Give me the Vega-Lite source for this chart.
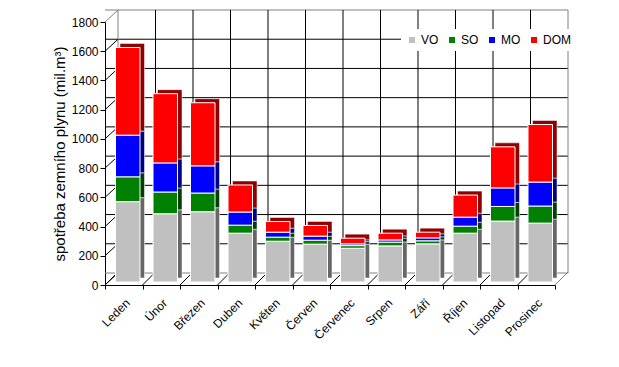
{
  "$schema": "https://vega.github.io/schema/vega-lite/v6.json",
  "width": 450,
  "height": 263,
  "autosize": {"type": "none"},
  "padding": {"left": 105, "top": 22, "right": 64, "bottom": 82},
  "background": "white",
  "config": {
    "view": {"stroke": null},
    "font": "Liberation Sans Narrow, Liberation Sans, sans-serif",
    "axis": {"labelColor": "black", "titleColor": "black", "domainColor": "black", "tickColor": "black", "grid": false, "labelOverlap": false},
    "axisY": {"labelOverlap": false, "format": "d", "tickCount": 9}
  },
  "datasets": {
    "gas": [
      {"month": "Leden", "type": "VO", "value": 550}, {"month": "Leden", "type": "SO", "value": 170}, {"month": "Leden", "type": "MO", "value": 285}, {"month": "Leden", "type": "DOM", "value": 600},
      {"month": "Únor", "type": "VO", "value": 467}, {"month": "Únor", "type": "SO", "value": 149}, {"month": "Únor", "type": "MO", "value": 199}, {"month": "Únor", "type": "DOM", "value": 474},
      {"month": "Březen", "type": "VO", "value": 481}, {"month": "Březen", "type": "SO", "value": 128}, {"month": "Březen", "type": "MO", "value": 186}, {"month": "Březen", "type": "DOM", "value": 432},
      {"month": "Duben", "type": "VO", "value": 334}, {"month": "Duben", "type": "SO", "value": 55}, {"month": "Duben", "type": "MO", "value": 90}, {"month": "Duben", "type": "DOM", "value": 185},
      {"month": "Květen", "type": "VO", "value": 279}, {"month": "Květen", "type": "SO", "value": 28}, {"month": "Květen", "type": "MO", "value": 34}, {"month": "Květen", "type": "DOM", "value": 73},
      {"month": "Červen", "type": "VO", "value": 259}, {"month": "Červen", "type": "SO", "value": 27}, {"month": "Červen", "type": "MO", "value": 28}, {"month": "Červen", "type": "DOM", "value": 73},
      {"month": "Červenec", "type": "VO", "value": 231}, {"month": "Červenec", "type": "SO", "value": 18}, {"month": "Červenec", "type": "MO", "value": 12}, {"month": "Červenec", "type": "DOM", "value": 39},
      {"month": "Srpen", "type": "VO", "value": 247}, {"month": "Srpen", "type": "SO", "value": 26}, {"month": "Srpen", "type": "MO", "value": 15}, {"month": "Srpen", "type": "DOM", "value": 46},
      {"month": "Září", "type": "VO", "value": 261}, {"month": "Září", "type": "SO", "value": 21}, {"month": "Září", "type": "MO", "value": 20}, {"month": "Září", "type": "DOM", "value": 39},
      {"month": "Říjen", "type": "VO", "value": 334}, {"month": "Říjen", "type": "SO", "value": 48}, {"month": "Říjen", "type": "MO", "value": 62}, {"month": "Říjen", "type": "DOM", "value": 151},
      {"month": "Listopad", "type": "VO", "value": 417}, {"month": "Listopad", "type": "SO", "value": 100}, {"month": "Listopad", "type": "MO", "value": 127}, {"month": "Listopad", "type": "DOM", "value": 281},
      {"month": "Prosinec", "type": "VO", "value": 403}, {"month": "Prosinec", "type": "SO", "value": 117}, {"month": "Prosinec", "type": "MO", "value": 164}, {"month": "Prosinec", "type": "DOM", "value": 394}
    ],
    "ticks": [{"v": 0}, {"v": 200}, {"v": 400}, {"v": 600}, {"v": 800}, {"v": 1000}, {"v": 1200}, {"v": 1400}, {"v": 1600}, {"v": 1800}],
    "months": [{"month": "Leden"}, {"month": "Únor"}, {"month": "Březen"}, {"month": "Duben"}, {"month": "Květen"}, {"month": "Červen"}, {"month": "Červenec"}, {"month": "Srpen"}, {"month": "Září"}, {"month": "Říjen"}, {"month": "Listopad"}, {"month": "Prosinec"}]
  },
  "layer": [
    {
      "data": {"name": "ticks"},
      "mark": {"type": "rule", "xOffset": 13, "x2Offset": 13, "yOffset": -12, "strokeWidth": 1},
      "encoding": {
        "y": {"field": "v", "type": "quantitative", "scale": {"domain": [0, 1800], "nice": false},
          "axis": {"title": "spotřeba zemního plynu (mil.m³)", "tickCount": 9, "format": "d", "labelOverlap": false, "tickSize": 5, "labelPadding": 2, "labelFontSize": 12, "titleFontSize": 15, "titleFontWeight": "normal", "titlePadding": 4}},
        "stroke": {"condition": {"test": "datum.v == 0 || datum.v == 1800", "value": "#808080"}, "value": "black"}
      }
    },
    {
      "data": {"name": "months"},
      "mark": {"type": "rule", "xOffset": 13, "yOffset": -12, "y2Offset": -12, "strokeWidth": 1},
      "encoding": {
        "x": {"field": "month", "type": "nominal", "bandPosition": 0, "scale": {"domain": ["Leden", "Únor", "Březen", "Duben", "Květen", "Červen", "Červenec", "Srpen", "Září", "Říjen", "Listopad", "Prosinec"], "paddingInner": 0, "paddingOuter": 0},
          "axis": {"title": null, "labelAngle": -45, "labelFontSize": 12, "labelOverlap": false, "tickBand": "extent", "tickSize": 4, "labelPadding": 8}},
        "y": {"datum": 0, "type": "quantitative"},
        "y2": {"datum": 1800},
        "stroke": {"condition": {"test": "datum.month == 'Leden'", "value": "#808080"}, "value": "black"}
      }
    },
    {
      "data": {"name": "months"},
      "transform": [{"filter": "datum.month == 'Prosinec'"}],
      "mark": {"type": "rule", "xOffset": 13, "yOffset": -12, "y2Offset": -12, "strokeWidth": 1, "color": "#808080"},
      "encoding": {
        "x": {"field": "month", "type": "nominal", "bandPosition": 1},
        "y": {"datum": 0, "type": "quantitative"},
        "y2": {"datum": 1800}
      }
    },
    {
      "data": {"name": "ticks"},
      "mark": {"type": "rule", "x2Offset": 13, "y2Offset": -12, "strokeWidth": 1},
      "encoding": {
        "x": {"datum": "Leden", "type": "nominal", "bandPosition": 0},
        "x2": {"datum": "Leden", "bandPosition": 0},
        "y": {"field": "v", "type": "quantitative"},
        "y2": {"field": "v"},
        "stroke": {"condition": {"test": "datum.v == 1800", "value": "#808080"}, "value": "black"}
      }
    },
    {
      "data": {"name": "months"},
      "mark": {"type": "rule", "x2Offset": 13, "y2Offset": -13, "strokeWidth": 1, "color": "black"},
      "encoding": {
        "x": {"field": "month", "type": "nominal", "bandPosition": 0},
        "x2": {"field": "month", "bandPosition": 0},
        "y": {"datum": 0, "type": "quantitative"},
        "y2": {"datum": 0}
      }
    },
    {
      "data": {"name": "months"},
      "transform": [{"filter": "datum.month == 'Prosinec'"}],
      "mark": {"type": "rule", "x2Offset": 13, "y2Offset": -13, "strokeWidth": 1, "color": "#808080"},
      "encoding": {
        "x": {"field": "month", "type": "nominal", "bandPosition": 1},
        "x2": {"field": "month", "bandPosition": 1},
        "y": {"datum": 0, "type": "quantitative"},
        "y2": {"datum": 0}
      }
    },
    {
      "data": {"name": "gas"},
      "mark": {"type": "bar", "width": 24.5, "xOffset": 8.5, "yOffset": -7, "y2Offset": -7, "stroke": "white", "strokeWidth": 0.5},
      "encoding": {
        "x": {"field": "month", "type": "nominal"},
        "y": {"field": "value", "type": "quantitative", "stack": "zero"},
        "color": {"field": "type", "type": "nominal", "sort": ["VO", "SO", "MO", "DOM"], "scale": {"domain": ["VO", "SO", "MO", "DOM"], "range": ["#666666", "#004000", "#000080", "#900000"]}, "legend": null}
      }
    },
    {
      "data": {"name": "gas"},
      "mark": {"type": "bar", "width": 24.5, "xOffset": 4, "yOffset": -3, "y2Offset": -3, "stroke": "white", "strokeWidth": 1},
      "encoding": {
        "x": {"field": "month", "type": "nominal"},
        "y": {"field": "value", "type": "quantitative", "stack": "zero"},
        "color": {"field": "type", "type": "nominal", "sort": ["VO", "SO", "MO", "DOM"], "scale": {"domain": ["VO", "SO", "MO", "DOM"], "range": ["#C0C0C0", "#008000", "#0000FF", "#FF0000"]},
          "legend": {"orient": "none", "legendX": 296, "legendY": 7, "direction": "horizontal", "title": null, "symbolType": "square", "symbolSize": 36, "symbolStrokeWidth": 0, "fillColor": "white", "padding": 5, "labelFontSize": 12, "labelOffset": 3, "columnPadding": 7, "gridAlign": "each",
            "encode": {"labels": {"update": {"fill": {"signal": "datum.value == 'SO' ? '#008000' : datum.value == 'MO' ? '#0000FF' : datum.value == 'DOM' ? '#FF0000' : '#000000'"}}}}}}
      }
    }
  ],
  "resolve": {"scale": {"color": "independent"}}
}
